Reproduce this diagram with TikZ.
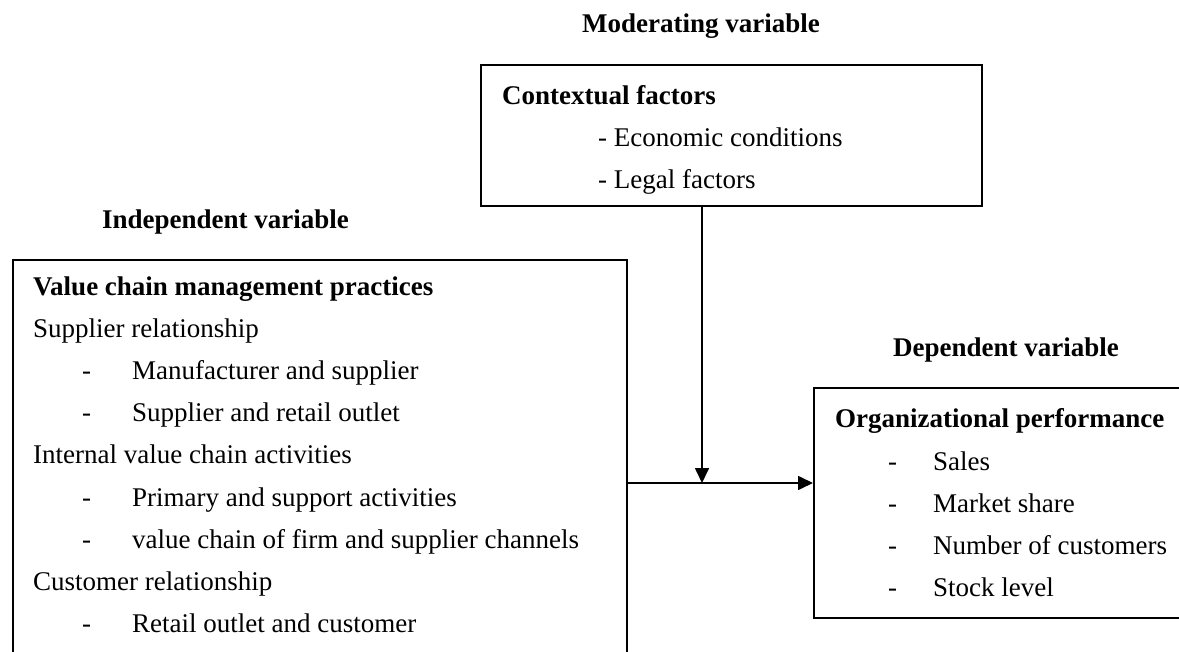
\documentclass[tikz,border=0pt]{standalone}
\usepackage{fontspec}
\setmainfont{Liberation Serif}
\usetikzlibrary{arrows.meta}
\begin{document}
\begin{tikzpicture}[x=1pt,y=-1pt,
  txt/.style={anchor=base west,inner sep=0pt,font=\fontsize{27}{32}\selectfont},
  ttl/.style={anchor=base west,inner sep=0pt,font=\fontsize{27}{32}\selectfont\bfseries},
  boxframe/.style={draw=black,line width=1.7pt,inner sep=0pt,anchor=north west},
  arr/.style={line width=1.7pt,-{Triangle[length=15pt,width=14pt]}}]
\clip (0,0) rectangle (1179,652);
\fill[white] (0,0) rectangle (1179,652);
% boxes
\node[boxframe,minimum width=501pt,minimum height=141pt] (ctx) at (480,64) {};
\node[boxframe,minimum width=614pt,minimum height=460pt] (vbox) at (12,259) {};
\node[boxframe,minimum width=420pt,minimum height=230pt] (perf) at (813,387) {};
% headings
\node[ttl] (hmod) at (582,33) {Moderating variable};
\node[ttl] (hind) at (102,229) {Independent variable};
\node[ttl] (hdep) at (893,357) {Dependent variable};
% contextual factors
\node[ttl] (c0) at (502,105) {Contextual factors};
\node[txt] (c1) at (598,147) {- Economic conditions};
\node[txt] (c2) at (598,189) {- Legal factors};
% value chain
\node[ttl] (v0) at (33,296) {Value chain management practices};
\node[txt] (v1) at (33,338) {Supplier relationship};
\node[txt] (d2) at (82,380) {-};\node[txt] (v2) at (132,380) {Manufacturer and supplier};
\node[txt] (d3) at (82,422) {-};\node[txt] (v3) at (132,422) {Supplier and retail outlet};
\node[txt] (v4) at (33,464) {Internal value chain activities};
\node[txt] (d5) at (82,506) {-};\node[txt] (v5) at (132,506) {Primary and support activities};
\node[txt] (d6) at (82,548) {-};\node[txt] (v6) at (132,548) {value chain of firm and supplier channels};
\node[txt] (v7) at (33,590) {Customer relationship};
\node[txt] (d8) at (82,632) {-};\node[txt] (v8) at (132,632) {Retail outlet and customer};
% performance
\node[ttl] (p0) at (835,428) {Organizational performance};
\node[txt] (e1) at (888,470) {-};\node[txt] (p1) at (933,470) {Sales};
\node[txt] (e2) at (888,512) {-};\node[txt] (p2) at (933,512) {Market share};
\node[txt] (e3) at (888,554) {-};\node[txt] (p3) at (933,554) {Number of customers};
\node[txt] (e4) at (888,596) {-};\node[txt] (p4) at (933,596) {Stock level};
% connectors
\coordinate (j) at (702,483);
\draw[arr] (ctx.south -| j) -- (j);
\draw[arr] (vbox.east |- j) -- (perf.west |- j);
\end{tikzpicture}
\end{document}
